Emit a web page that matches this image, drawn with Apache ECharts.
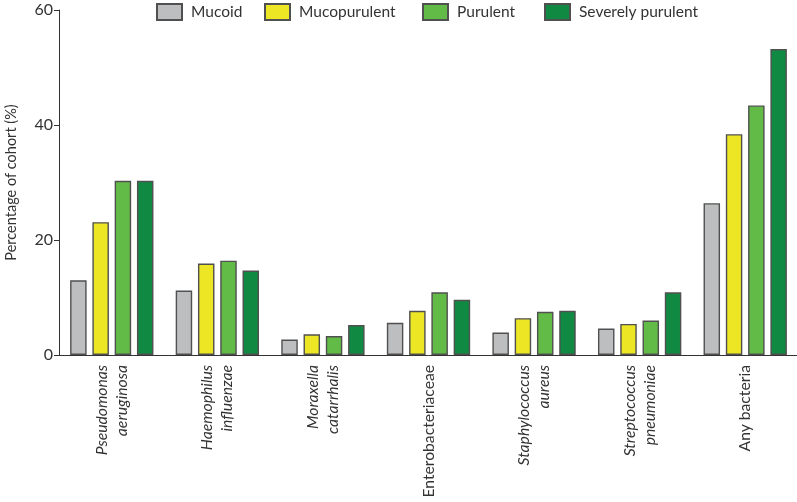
<!DOCTYPE html>
<html>
<head>
<meta charset="utf-8">
<script src="https://cdn.jsdelivr.net/npm/echarts@6/dist/echarts.min.js"></script>
<style>html,body{margin:0;padding:0;background:#fff}#c{width:797px;height:502px}</style>
</head>
<body>
<div id="c"></div>
<script>
var categories = ['Pseudomonas\naeruginosa', 'Haemophilus\ninfluenzae', 'Moraxella\ncatarrhalis', 'Enterobacteriaceae', 'Staphylococcus\naureus', 'Streptococcus\npneumoniae', 'Any bacteria'];
var italicCats = [true, true, true, false, true, true, false];
var seriesNames = ['Mucoid', 'Mucopurulent', 'Purulent', 'Severely purulent'];
var mucoid = [13.0, 11.2, 2.7, 5.6, 3.9, 4.6, 26.4];
var mucopurulent = [23.1, 15.9, 3.6, 7.7, 6.4, 5.4, 38.4];
var purulent = [30.3, 16.4, 3.3, 10.9, 7.5, 6.0, 43.4];
var severelyPurulent = [30.3, 14.7, 5.2, 9.6, 7.7, 10.9, 53.2];
var yTicks = [0, 20, 40, 60];
var colors = ['#bdbebf', '#ece624', '#62bb46', '#108a43'];

var FONT = 'Lato';
var legendLefts = [156, 264, 422, 544];
var chart = echarts.init(document.getElementById('c'));
var values = [mucoid, mucopurulent, purulent, severelyPurulent];
chart.setOption({
  animation: false,
  textStyle: {fontFamily: FONT},
  legend: seriesNames.map(function (n, i) {
    return {
      left: legendLefts[i], top: 3, padding: 0, itemWidth: 25, itemHeight: 16, icon: 'rect',
      textStyle: {fontSize: 15.5, color: '#333', fontFamily: FONT, padding: [0, 0, 0, 4]},
      data: [n]
    };
  }),
  grid: {left: 59, top: 10, width: 739, height: 345, containLabel: false, outerBoundsMode: 'none'},
  xAxis: {
    type: 'category',
    data: categories.map(function (c, i) { return {value: c, textStyle: {fontStyle: italicCats[i] ? 'italic' : 'normal'}}; }),
    axisLine: {lineStyle: {color: '#333', width: 1}},
    axisTick: {alignWithLabel: true, length: 6, lineStyle: {color: '#333'}},
    axisLabel: {rotate: 90, fontSize: 15.7, color: '#333', margin: 10, fontFamily: FONT, lineHeight: 20, align: 'right'}
  },
  yAxis: {
    type: 'value', min: 0, max: 60, interval: 20,
    name: 'Percentage of cohort (%)', nameLocation: 'middle', nameGap: 40,
    nameTextStyle: {fontSize: 14.5, color: '#333', fontFamily: FONT},
    axisLine: {show: true, lineStyle: {color: '#333', width: 1}},
    axisTick: {show: true, length: 5, lineStyle: {color: '#333'}},
    axisLabel: {fontSize: 16, color: '#333', margin: 6, fontFamily: FONT,
      formatter: function (v) { return yTicks.indexOf(v) >= 0 ? String(v) : ''; }},
    splitLine: {show: false}
  },
  series: seriesNames.map(function (n, i) {
    return {
      name: n, type: 'bar', data: values[i], barWidth: 16.5, barGap: '35%',
      itemStyle: {color: colors[i], borderColor: '#505050', borderWidth: 1.4}
    };
  })
});
</script>
</body>
</html>
